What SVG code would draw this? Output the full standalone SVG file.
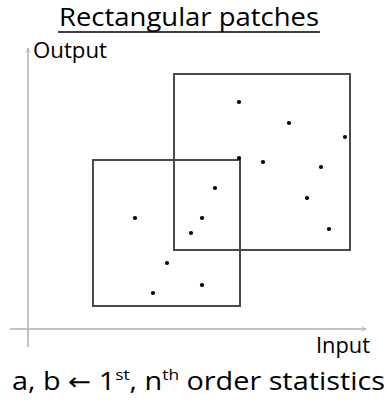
<svg xmlns="http://www.w3.org/2000/svg" width="389" height="403" viewBox="0 0 389 403">
<style>
.t{font-family:"Open Sans","Liberation Sans",sans-serif;fill:#000}
.box{fill:none;stroke:#4a4a4a;stroke-width:2}
.ax{stroke:#b0b0b0;stroke-width:1.5;fill:none}
.dot{fill:#000}
</style>
<defs>
<marker id="arr" viewBox="0 0 10 10" refX="9" refY="5" markerWidth="6" markerHeight="6" orient="auto" markerUnits="userSpaceOnUse">
<path d="M1,1 L9,5 L1,9" fill="none" stroke="#b0b0b0" stroke-width="1.2"/>
</marker>
</defs>
<rect width="389" height="403" fill="#fff"/>
<text class="t" x="189" y="26" font-size="25" text-anchor="middle" textLength="260" lengthAdjust="spacingAndGlyphs">Rectangular patches</text>
<line x1="58" y1="32" x2="320" y2="32" stroke="#000" stroke-width="1.5"/>
<g id="axes">
<line class="ax" x1="28" y1="347" x2="28" y2="48" marker-end="url(#arr)"/>
<line class="ax" x1="10" y1="329" x2="366" y2="329" marker-end="url(#arr)"/>
</g>
<text class="t" x="33" y="58" font-size="21" textLength="74" lengthAdjust="spacingAndGlyphs">Output</text>
<text class="t" x="316" y="353" font-size="21" textLength="54" lengthAdjust="spacingAndGlyphs">Input</text>
<g id="rect1"><rect class="box" x="174" y="74" width="176" height="176"/></g>
<g id="rect2"><rect class="box" x="93" y="160" width="147" height="146"/></g>
<g id="points">
<circle class="dot" cx="239" cy="102" r="2.1"/>
<circle class="dot" cx="289" cy="123" r="2.1"/>
<circle class="dot" cx="345" cy="137" r="2.1"/>
<circle class="dot" cx="239" cy="158" r="2.1"/>
<circle class="dot" cx="263" cy="162" r="2.1"/>
<circle class="dot" cx="321" cy="167" r="2.1"/>
<circle class="dot" cx="215" cy="188" r="2.1"/>
<circle class="dot" cx="307" cy="198" r="2.1"/>
<circle class="dot" cx="135" cy="218" r="2.1"/>
<circle class="dot" cx="202" cy="218" r="2.1"/>
<circle class="dot" cx="191" cy="233" r="2.1"/>
<circle class="dot" cx="329" cy="229" r="2.1"/>
<circle class="dot" cx="167" cy="263" r="2.1"/>
<circle class="dot" cx="202" cy="285" r="2.1"/>
<circle class="dot" cx="153" cy="293" r="2.1"/>
</g>
<text class="t" x="12" y="390" font-size="25" textLength="373" lengthAdjust="spacingAndGlyphs">a, b <tspan font-family="DejaVu Sans" font-size="24">←</tspan> 1<tspan font-size="15" dy="-10">st</tspan><tspan dy="10">, n</tspan><tspan font-size="15" dy="-10">th</tspan><tspan dy="10"> order statistics</tspan></text>
</svg>
